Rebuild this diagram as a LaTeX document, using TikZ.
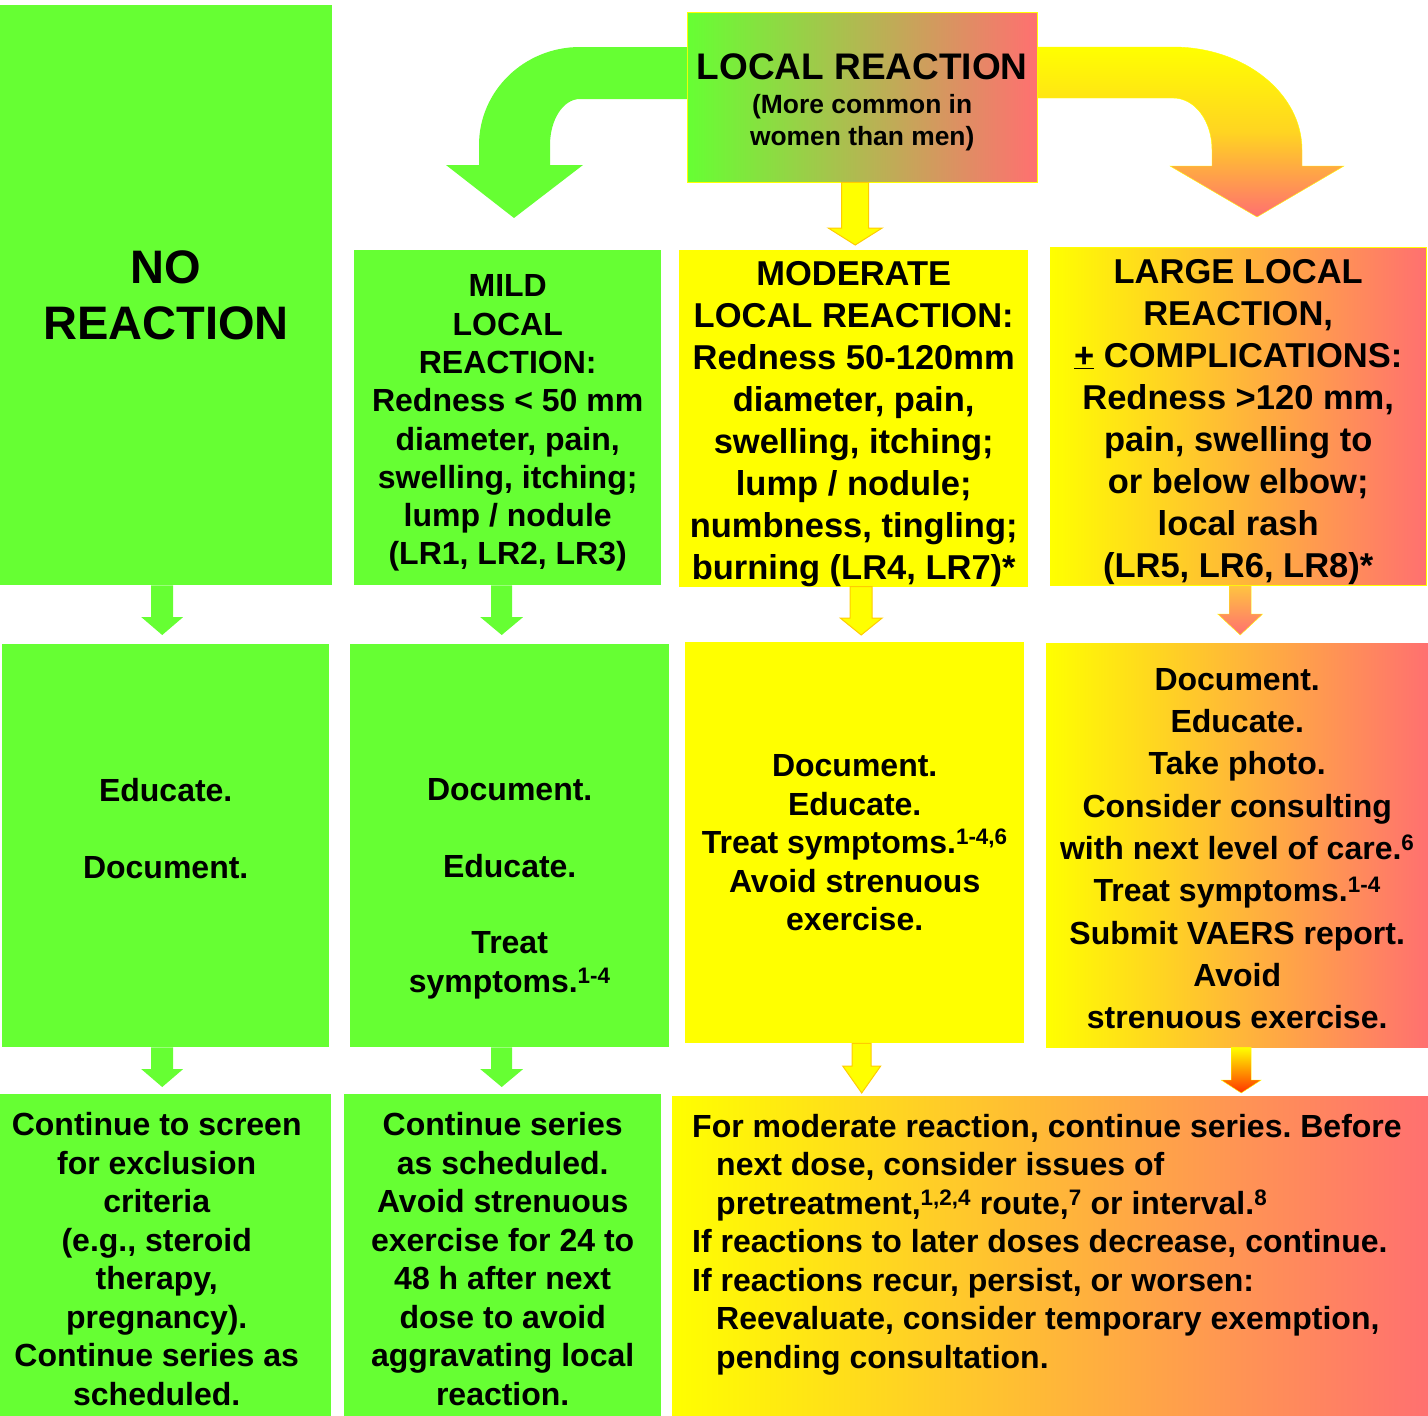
\documentclass[tikz,border=0pt]{standalone}
\usepackage{fontspec}
\setmainfont{Liberation Sans}
\usetikzlibrary{calc}
\frenchspacing

\definecolor{lrgreen}{RGB}{102,255,51}
\definecolor{lryellow}{RGB}{255,255,0}
\definecolor{lrsalmon}{RGB}{255,112,112}
\definecolor{lrgold}{RGB}{255,204,0}
\definecolor{lrorange}{RGB}{255,196,64}
\definecolor{lrred}{RGB}{255,51,0}

% block arrow: style, start, tip, shaft half width, head half width, head length
\newcommand{\blockarrow}[6]{%
  \path[#1] let \p1=(#2), \p2=(#3) in
    (\x1-#4,\y1) -- (\x1+#4,\y1) -- (\x1+#4,\y2+#6) -- (\x1+#5,\y2+#6) --
    (\x1,\y2) -- (\x1-#5,\y2+#6) -- (\x1-#4,\y2+#6) -- cycle;}
% taller first line, pushes the text of a box down
\newcommand{\lowertext}[1]{\rule{0pt}{#1}}

\begin{document}
\begin{tikzpicture}[x=1pt, y=-1pt,
    box/.style={anchor=north west, inner sep=0pt, align=center},
    greenbox/.style={box, fill=lrgreen},
    yellowbox/.style={box, fill=lryellow},
    hotbox/.style={box, left color=lryellow, right color=lrsalmon},
    head/.style={font={\fontsize{34.5}{42}\selectfont\bfseries}},
    body/.style={font={\fontsize{32}{38.5}\selectfont\bfseries}},
    greenarrow/.style={fill=lrgreen},
    yellowarrow/.style={fill=lryellow, draw=lrgold, line width=1pt},
  ]
  \useasboundingbox (0,0) rectangle (1428,1416);

  % top row
  \node[greenbox, minimum width=332pt, minimum height=580pt,
        font={\fontsize{47}{56}\selectfont\bfseries}] (noreact) at (0,5) {NO\\REACTION};
  \node[box, left color=lrgreen, right color=lrsalmon, draw=lryellow,
        minimum width=350pt, minimum height=170pt,
        font={\fontsize{26.4}{32}\selectfont\bfseries}] (local) at (687,12)
        {\lowertext{36.5pt}{\fontsize{37}{40}\selectfont LOCAL REACTION}\\[2pt](More common in\\women than men)};
  \node[greenbox, font={\fontsize{32}{38.3}\selectfont\bfseries},
        minimum width=307pt, minimum height=335pt] (mild) at (354,250)
        {\lowertext{33pt}MILD\\LOCAL\\REACTION:\\Redness < 50 mm\\diameter, pain,\\swelling, itching;\\lump / nodule\\(LR1, LR2, LR3)};
  \node[yellowbox, head, minimum width=349pt, minimum height=335pt] (moderate) at (679,250)
        {\lowertext{35pt}MODERATE\\LOCAL REACTION:\\Redness 50-120mm\\diameter, pain,\\swelling, itching;\\lump / nodule;\\numbness, tingling;\\ burning (LR4, LR7)*};
  \node[hotbox, head, draw=lryellow, minimum width=376pt, minimum height=338pt] (large) at (1050,247)
        {\lowertext{35pt}LARGE LOCAL\\REACTION,\\\underline{+} COMPLICATIONS:\\Redness >120 mm,\\pain, swelling to\\or below elbow;\\local rash\\ (LR5, LR6, LR8)*};

  % middle row
  \node[greenbox, minimum width=327pt, minimum height=403pt] (nomid) at (2,644) {};
  \node[body, align=center] (nomid-text) at ([yshift=17pt]nomid.center)
        {Educate.\\[38pt]Document.};
  \node[greenbox, minimum width=319pt, minimum height=403pt] (mildmid) at (350,644) {};
  \node[body, align=center] (mildmid-text) at ([yshift=-43pt]mildmid.center)
        {Document.\\[38pt]Educate.\\[38pt]Treat\\symptoms.\textsuperscript{1-4}};
  \node[yellowbox, body, minimum width=339pt, minimum height=401pt] (modmid) at (685,642)
        {Document.\\Educate.\\Treat symptoms.\textsuperscript{1-4,6}\\Avoid strenuous\\exercise.};
  \node[hotbox, font={\fontsize{32}{42.3}\selectfont\bfseries},
        minimum width=382pt, minimum height=404pt] (largemid) at (1046,643)
        {\lowertext{29pt}Document.\\Educate.\\Take photo.\\Consider consulting\\with next level of care.\textsuperscript{6}\\
         Treat symptoms.\textsuperscript{1-4}\\Submit VAERS report.\\Avoid\\strenuous exercise.};

  % bottom row
  \node[greenbox, minimum width=331pt, minimum height=322pt] (nobot) at (0,1094) {};
  \node[body, align=center] (nobot-text) at ([xshift=-9pt, yshift=-4pt]nobot.center)
        {Continue to screen\\for exclusion\\criteria\\(e.g., steroid\\therapy,\\pregnancy).\\Continue series as\\scheduled.};
  \node[greenbox, body, minimum width=317pt, minimum height=322pt] (mildbot) at (344,1094)
        {\lowertext{31pt}Continue series\\as scheduled.\\Avoid strenuous\\exercise for 24 to\\48 h after next\\dose to avoid\\aggravating local\\reaction.};
  \node[hotbox, minimum width=756pt, minimum height=320pt] (modbot) at (672,1096) {};
  \node[body, align=left, anchor=north west, inner sep=0pt] (modbot-text)
        at ([xshift=20pt, yshift=-18pt]modbot.north west)
        {For moderate reaction, continue series. Before\\
         \hspace*{24pt}next dose, consider issues of\\
         \hspace*{24pt}pretreatment,\textsuperscript{1,2,4} route,\textsuperscript{7} or interval.\textsuperscript{8}\\
         If reactions to later doses decrease, continue.\\
         If reactions recur, persist, or worsen:\\
         \hspace*{24pt}Reevaluate, consider temporary exemption,\\
         \hspace*{24pt}pending consultation.};

  % curved arrows out of the local reaction box
  \path[fill=lrgreen] (local.west |- 0,47) -- (580,47) .. controls (524,47) and (479,91) .. (479,145)
    -- (479,165) -- (446,165) -- (514,218) -- (583,165) -- (550,165) -- (550,145)
    .. controls (550,120) and (563,99) .. (580,99) -- (local.west |- 0,99) -- cycle;
  \path[top color=lryellow, bottom color=lrsalmon, middle color=lryellow!70!lrsalmon, draw=lryellow]
    (local.east |- 0,47) -- (1173,47) .. controls (1244,47) and (1302,93) .. (1302,150)
    -- (1302,166) -- (1344,166) -- (1257,217) -- (1170,166) -- (1212,166) -- (1212,150)
    .. controls (1212,121) and (1195,98) .. (1173,98) -- (local.east |- 0,98) -- cycle;

  % straight arrows
  \blockarrow{yellowarrow}{[xshift=-7pt]local.south}{[yshift=5pt]moderate.north}{13.5pt}{27pt}{17pt}
  \blockarrow{greenarrow}{[xshift=-4pt]noreact.south}{[yshift=9pt]nomid.north}{11pt}{21pt}{18pt}
  \blockarrow{greenarrow}{[xshift=-6pt]mild.south}{[yshift=9pt]mildmid.north}{10.5pt}{21.5pt}{18pt}
  \blockarrow{yellowarrow}{[xshift=7.5pt]moderate.south}{[yshift=7pt]modmid.north}{11pt}{21pt}{17pt}
  \blockarrow{top color=lrorange, bottom color=lrsalmon, draw=lryellow}{[xshift=2pt]large.south}{[yshift=8pt]largemid.north}{11pt}{22.5pt}{21pt}
  \blockarrow{greenarrow}{[xshift=-3.5pt]nomid.south}{[yshift=7pt]nobot.north}{11pt}{21pt}{18pt}
  \blockarrow{greenarrow}{[xshift=-8pt]mildmid.south}{[yshift=7pt]mildbot.north}{10.5pt}{21.5pt}{18pt}
  \blockarrow{yellowarrow}{[xshift=7pt]modmid.south}{[yshift=3pt]modbot.north}{9.5pt}{19pt}{27pt}
  \blockarrow{top color=lryellow, bottom color=lrred, draw=lryellow}{[xshift=4pt]largemid.south}{[yshift=3pt]modbot.north}{10pt}{20pt}{13pt}
\end{tikzpicture}
\end{document}
